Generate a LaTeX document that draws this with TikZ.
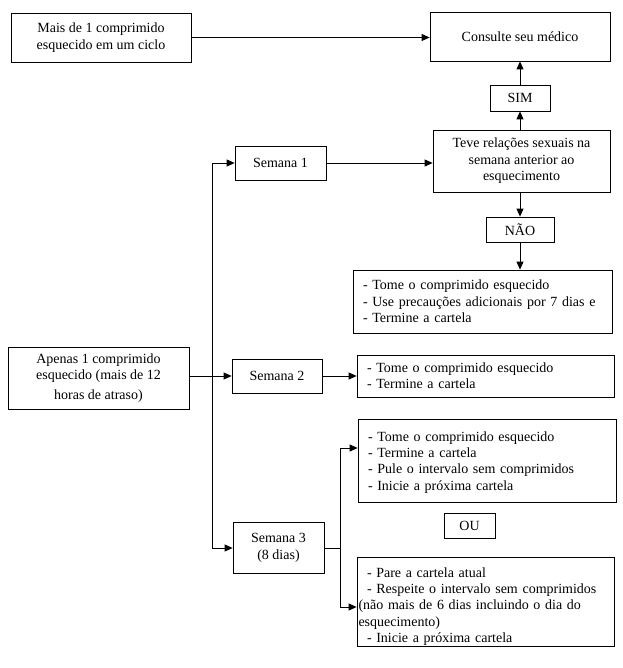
\documentclass[tikz,border=0pt]{standalone}
\usepackage{fontspec}
\setmainfont{Liberation Serif}
\usetikzlibrary{arrows.meta}
\begin{document}
\begin{tikzpicture}[x=1pt,y=-1pt,
  box/.style={draw, line width=0.8pt, inner sep=0pt, align=center, font=\fontsize{14}{16.5}\selectfont},
  lbox/.style={draw, line width=0.8pt, inner xsep=10pt, inner ysep=0pt, align=left, font=\fontsize{14}{16.3}\selectfont},
  arr/.style={line width=0.8pt, -{Triangle[length=8pt,width=7pt]}},
  ln/.style={line width=0.8pt}]
\useasboundingbox (0,0) rectangle (622,668);
\fill[white] (0,0) rectangle (622,668);

\node[box, minimum width=180pt, minimum height=49pt] (mais) at (101,37.5) {Mais de 1 comprimido\\esquecido em um ciclo};
\node[box, minimum width=180pt, minimum height=49pt] (consulte) at (520,36.5) {Consulte seu médico};
\node[box, minimum width=60pt, minimum height=26pt] (sim) at (520,98) {SIM};
\node[box, minimum width=177pt, minimum height=62pt] (teve) at (521.5,161) {Teve relações sexuais na\\semana anterior ao\\esquecimento};
\node[box, minimum width=91pt, minimum height=34pt] (sem1) at (280.5,163) {Semana 1};
\node[box, minimum width=68pt, minimum height=25pt] (nao) at (520,229.5) {NÃO};
\node[lbox, text width=239pt, minimum height=63pt] (b1) at (482.5,301.5) {- Tome o comprimido esquecido\\- Use precauções adicionais por 7 dias e\\- Termine a cartela};
\node[box, minimum width=181pt, minimum height=62pt] (apenas) at (98.5,378) {Apenas 1 comprimido\\esquecido (mais de 12\\[3.5pt]horas de atraso)};
\node[box, minimum width=90pt, minimum height=34pt] (sem2) at (277,376) {Semana 2};
\node[lbox, text width=237pt, minimum height=42pt] (b2) at (485.5,376) {- Tome o comprimido esquecido\\- Termine a cartela};
\node[box, minimum width=91pt, minimum height=51pt] (sem3) at (278.5,548) {Semana 3\\(8 dias)};
\node[lbox, text width=238pt, minimum height=83pt, text depth=48pt] (bA) at (487,460.5) {- Tome o comprimido esquecido\\- Termine a cartela\\- Pule o intervalo sem comprimidos\\- Inicie a próxima cartela};
\node[box, minimum width=51pt, minimum height=25pt] (ou) at (469.5,525.5) {OU};
\node[lbox, text width=237pt, minimum height=89pt, text depth=58.5pt] (bB) at (485.5,601.5) {- Pare a cartela atual\\- Respeite o intervalo sem comprimidos\\\hspace*{-8.5pt}(não mais de 6 dias incluindo o dia do\\\hspace*{-8.5pt}esquecimento)\\- Inicie a próxima cartela};

\coordinate (tx) at (212,0);
\coordinate (fx) at (340,0);

\draw[arr] (mais.east) -- (mais.east -| consulte.west);
\draw[arr] (sim.north) -- (consulte.south);
\draw[arr] (teve.north -| sim.north) -- (sim.south);
\draw[arr] (sem1.east) -- (sem1.east -| teve.west);
\draw[arr] (teve.south -| nao.north) -- (nao.north);
\draw[arr] (nao.south) -- (nao.south |- b1.north);
\draw[arr] (apenas.east |- sem2.west) -- (sem2.west);
\draw[arr] (sem2.east) -- (sem2.east -| b2.west);
\draw[ln] (tx |- sem1.west) -- (tx |- sem3.west);
\draw[arr] (tx |- sem1.west) -- (sem1.west);
\draw[arr] (tx |- sem3.west) -- (sem3.west);
\draw[ln] (sem3.east) -- (fx |- sem3.east);
\draw[arr] (fx |- sem3.east) |- ([yshift=12.5pt]bA.west);
\draw[arr] (fx |- sem3.east) |- ([yshift=-5.5pt]bB.west);
\end{tikzpicture}
\end{document}
